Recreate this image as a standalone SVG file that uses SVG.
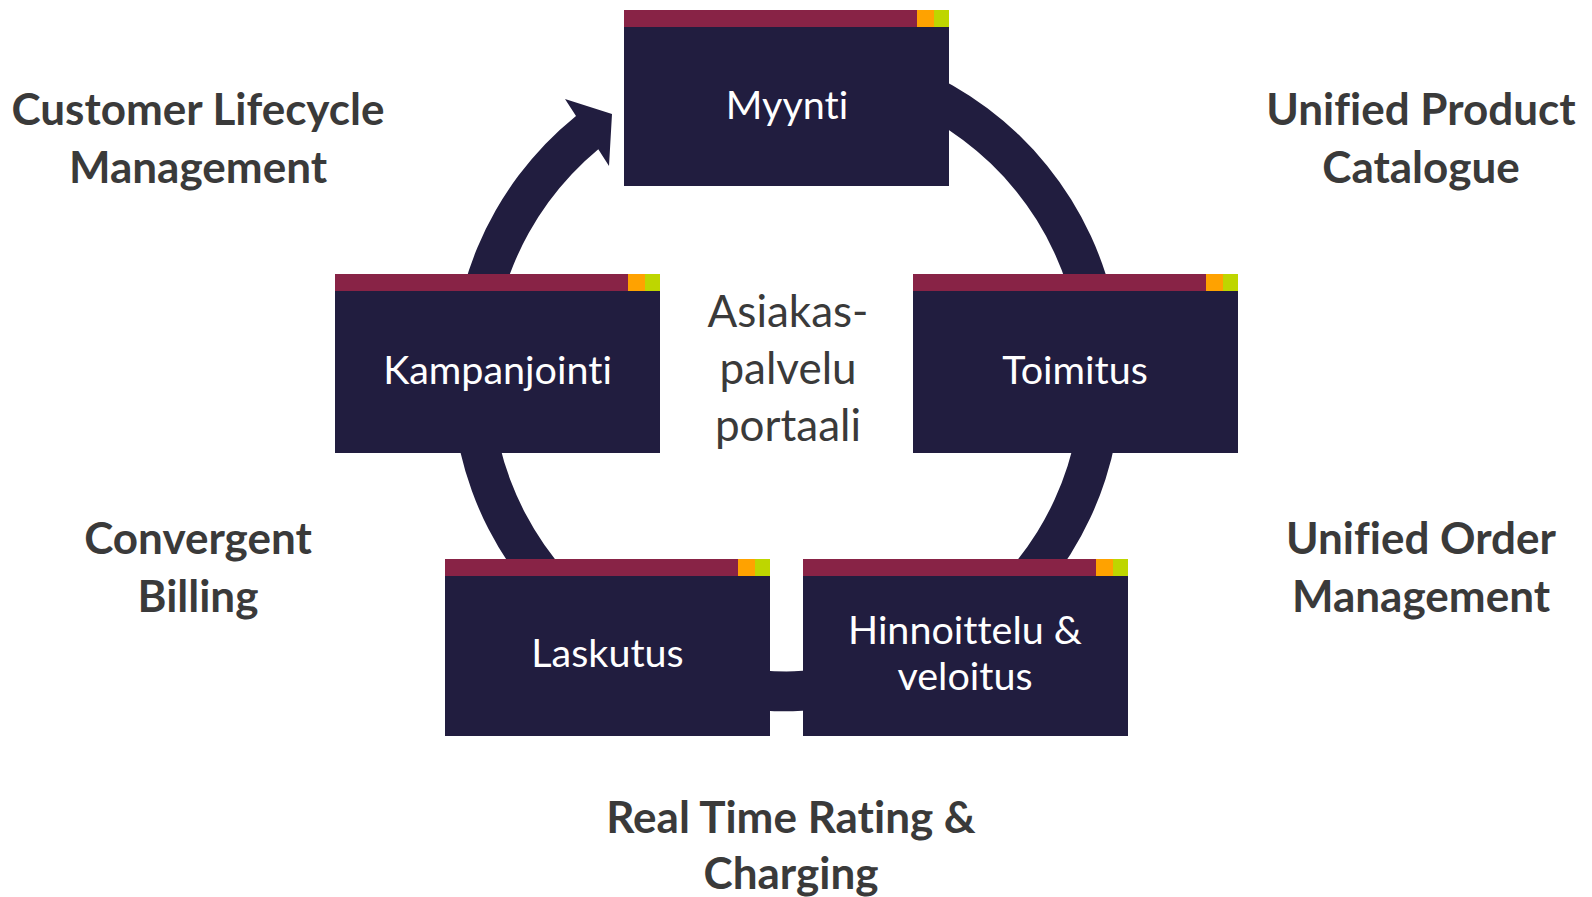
<svg xmlns="http://www.w3.org/2000/svg" width="1592" height="897" viewBox="0 0 1592 897">
  <defs>
    <style>
      text { font-variant-ligatures: none; font-feature-settings: "liga" 0, "clig" 0; }
      .body { fill: #211D3F; }
      .bar { fill: #882346; }
      .org { fill: #FFA200; }
      .grn { fill: #BED600; }
      .ntext { font-family: Lato, "Open Sans", "Liberation Sans", sans-serif; font-size: 39.5px; fill: #FFFFFF; text-anchor: middle; }
      .label { font-family: Lato, "Open Sans", "Liberation Sans", sans-serif; font-size: 44px; font-weight: bold; fill: #3A3A3A; text-anchor: middle; }
      .center { font-family: Lato, "Open Sans", "Liberation Sans", sans-serif; font-size: 44px; fill: #3A3A3A; text-anchor: middle; }
      .ring { fill: #211D3F; }
    </style>
  </defs>
  <rect width="1592" height="897" fill="#FFFFFF"/>

  <g id="connectors">
    <path class="ring" d="M 672.0 61.6 A 335 335 0 1 1 576.0 115.9 L 565 99 L 612 114 L 609 166 L 598.3 149.3 A 295 295 0 1 0 685.7 99.2 Z"/>
  </g>

  <g id="node-myynti">
    <rect class="body" x="624" y="10" width="325" height="176"/>
    <rect class="bar" x="624" y="10" width="293" height="17"/>
    <rect class="org" x="917" y="10" width="17" height="17"/>
    <rect class="grn" x="934" y="10" width="15" height="17"/>
    <text class="ntext" x="787" y="119">Myynti</text>
  </g>

  <g id="node-toimitus">
    <rect class="body" x="913" y="274" width="325" height="179"/>
    <rect class="bar" x="913" y="274" width="293" height="17"/>
    <rect class="org" x="1206" y="274" width="17" height="17"/>
    <rect class="grn" x="1223" y="274" width="15" height="17"/>
    <text class="ntext" x="1075" y="384">Toimitus</text>
  </g>

  <g id="node-kampanjointi">
    <rect class="body" x="335" y="274" width="325" height="179"/>
    <rect class="bar" x="335" y="274" width="293" height="17"/>
    <rect class="org" x="628" y="274" width="17" height="17"/>
    <rect class="grn" x="645" y="274" width="15" height="17"/>
    <text class="ntext" x="497.5" y="384">Kampanjointi</text>
  </g>

  <g id="node-laskutus">
    <rect class="body" x="445" y="559" width="325" height="177"/>
    <rect class="bar" x="445" y="559" width="293" height="17"/>
    <rect class="org" x="738" y="559" width="17" height="17"/>
    <rect class="grn" x="755" y="559" width="15" height="17"/>
    <text class="ntext" x="607.5" y="667">Laskutus</text>
  </g>

  <g id="node-hinnoittelu">
    <rect class="body" x="803" y="559" width="325" height="177"/>
    <rect class="bar" x="803" y="559" width="293" height="17"/>
    <rect class="org" x="1096" y="559" width="17" height="17"/>
    <rect class="grn" x="1113" y="559" width="15" height="17"/>
    <text class="ntext" x="965" y="644">Hinnoittelu &amp;</text>
    <text class="ntext" x="965" y="690">veloitus</text>
  </g>

  <g id="center-label">
    <text class="center" x="788" y="327">Asiakas-</text>
    <text class="center" x="788" y="384">palvelu</text>
    <text class="center" x="788" y="441">portaali</text>
  </g>

  <g id="labels">
    <text class="label" x="198" y="125">Customer Lifecycle</text>
    <text class="label" x="198" y="183">Management</text>
    <text class="label" x="1421" y="125">Unified Product</text>
    <text class="label" x="1421" y="183">Catalogue</text>
    <text class="label" x="198" y="554">Convergent</text>
    <text class="label" x="198" y="612">Billing</text>
    <text class="label" x="1421" y="554">Unified Order</text>
    <text class="label" x="1421" y="612">Management</text>
    <text class="label" x="791" y="833">Real Time Rating &amp;</text>
    <text class="label" x="791" y="889">Charging</text>
  </g>
</svg>
